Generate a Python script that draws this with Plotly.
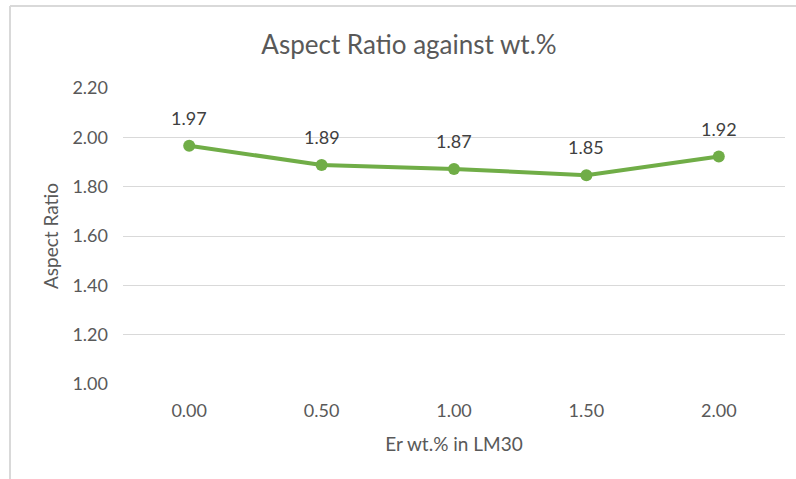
import plotly.graph_objects as go

categories = ["0.00", "0.50", "1.00", "1.50", "2.00"]
aspect_ratio = [1.966, 1.888, 1.872, 1.846, 1.922]
y_ticks = [1.00, 1.20, 1.40, 1.60, 1.80, 2.00, 2.20]
y_tick_labels = [f"{v:.2f}" for v in y_ticks]

W, H = 796, 479
L, R, T, B = 123, 11, 88, 95
pw, ph = W - L - R, H - T - B

FONT = "Lato, Carlito, Calibri, sans-serif"
GREY = "#595959"
GREEN = "#70AD47"

fig = go.Figure()
fig.add_trace(go.Scatter(
    x=list(range(len(categories))), y=aspect_ratio, mode="lines+markers",
    line=dict(color=GREEN, width=4),
    marker=dict(color=GREEN, size=12),
    hoverinfo="skip", showlegend=False, cliponaxis=False,
))

for i, v in enumerate(aspect_ratio):
    fig.add_annotation(x=i, y=v, text=f"{v:.2f}", showarrow=False,
                       yshift=28, font=dict(family=FONT, size=18, color="#404040"))

def px_x(p):
    return (p - L) / pw

def px_y(p):
    return (H - B - p) / ph

# chart-area border (left and top edges visible)
fig.add_shape(type="line", xref="paper", yref="paper",
              x0=px_x(10), x1=px_x(10), y0=px_y(6), y1=px_y(H + 5),
              line=dict(color="#D9D9D9", width=2))
fig.add_shape(type="line", xref="paper", yref="paper",
              x0=px_x(10), x1=px_x(W + 5), y0=px_y(6), y1=px_y(6),
              line=dict(color="#D9D9D9", width=2))

fig.update_layout(
    width=W, height=H,
    margin=dict(l=L, r=R, t=T, b=B, pad=0),
    paper_bgcolor="white", plot_bgcolor="white",
    title=dict(text="Aspect Ratio against wt.%", x=409 / W, xanchor="center",
               y=1 - 45 / H, yanchor="middle", xref="container", yref="container",
               font=dict(family=FONT, size=26, color=GREY)),
    xaxis=dict(range=[-0.5, len(categories) - 0.5],
               tickvals=list(range(len(categories))), ticktext=categories,
               showgrid=False, zeroline=False, showline=False, ticks="",
               ticklabelstandoff=14,
               tickfont=dict(family=FONT, size=18, color=GREY),
               title=dict(text="Er wt.% in LM30", standoff=17,
                          font=dict(family=FONT, size=19, color=GREY))),
    yaxis=dict(range=[1.0, 2.2], tickvals=y_ticks, ticktext=y_tick_labels,
               showgrid=True, gridcolor="#D9D9D9", gridwidth=1.3,
               zeroline=False, showline=False, ticks="",
               ticklabelstandoff=14,
               tickfont=dict(family=FONT, size=18, color=GREY),
               title=dict(text="Aspect Ratio", standoff=8,
                          font=dict(family=FONT, size=19, color=GREY))),
)

fig.write_html("out.html")
